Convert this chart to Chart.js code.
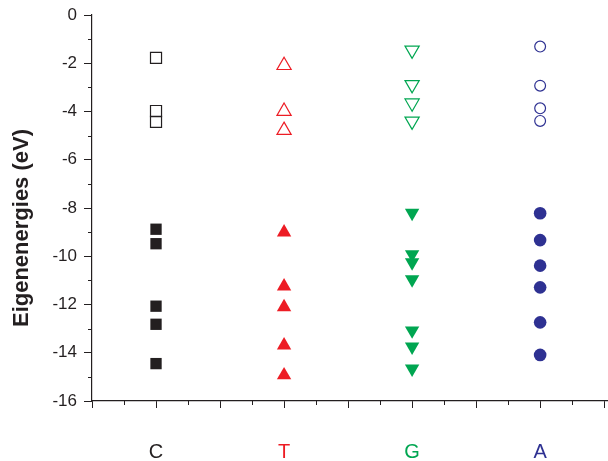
<!DOCTYPE html>
<html>
<head>
<meta charset="utf-8">
<script src="https://cdn.jsdelivr.net/npm/chart.js@4.4.1/dist/chart.umd.min.js"></script>
<style>
  html, body { margin: 0; padding: 0; background: #fff; }
  #wrap { width: 608px; height: 461px; }
</style>
</head>
<body>
<div id="wrap"><canvas id="chart" width="608" height="461"></canvas></div>
<script>
// categories and where they sit on the x axis
var categories = ['C', 'T', 'G', 'A'];
var catX = [1, 3, 5, 7];
var catColors = ['#231f20', '#ed1c24', '#00a651', '#2e3192'];

// eigenenergies (eV), unoccupied (open) and occupied (filled)
var cOpen = [-1.78, -3.98, -4.43];
var cFill = [-8.88, -9.48, -12.07, -12.82, -14.45];
var tOpen = [-2.09, -3.99, -4.78];
var tFill = [-9.01, -11.25, -12.11, -13.69, -14.93];
var gOpen = [-1.46, -2.89, -3.65, -4.40];
var gFill = [-8.20, -9.92, -10.26, -10.96, -13.08, -13.75, -14.66];
var aOpen = [-1.31, -2.93, -3.87, -4.39];
var aFill = [-8.22, -9.33, -10.39, -11.29, -12.74, -14.09];

var yTicks = [0, -2, -4, -6, -8, -10, -12, -14, -16];
var xTicks = [0, 1, 2, 3, 4, 5, 6, 7, 8];

function pts(i, vals) {
	return vals.map(function (v) { return { x: catX[i], y: v }; });
}

function ds(i, vals, style, filled, radius, rot) {
	return {
		data: pts(i, vals),
		pointStyle: style,
		pointRadius: radius,
		pointRotation: rot || 0,
		pointBorderWidth: filled ? 0 : 1.2,
		pointBorderColor: catColors[i],
		pointBackgroundColor: filled ? catColors[i] : 'rgba(0,0,0,0)',
		showLine: false
	};
}

// minor ticks and rotated y title
var extras = {
	id: 'extras',
	afterDraw: function (chart) {
		var ctx = chart.ctx, xs = chart.scales.x, ys = chart.scales.y;
		var area = chart.chartArea;
		ctx.save();
		ctx.strokeStyle = '#231f20';
		ctx.lineWidth = 1;
		ctx.beginPath();
		for (var v = -15; v <= -1; v += 2) {
			var py = Math.round(ys.getPixelForValue(v)) + 0.5;
			ctx.moveTo(area.left, py);
			ctx.lineTo(area.left - 4, py);
		}
		for (var u = 0.5; u < 8.06; u += 1) {
			var px = Math.round(xs.getPixelForValue(u)) + 0.5;
			ctx.moveTo(px, area.bottom);
			ctx.lineTo(px, area.bottom + 4);
		}
		ctx.stroke();

		ctx.translate(21.5, (area.top + area.bottom) / 2 + 20);
		ctx.rotate(-Math.PI / 2);
		ctx.fillStyle = '#231f20';
		ctx.font = 'bold 22px "Liberation Sans", Arial, sans-serif';
		ctx.textAlign = 'center';
		ctx.textBaseline = 'middle';
		ctx.fillText('Eigenenergies (eV)', 0, 0);
		ctx.restore();
	}
};

new Chart(document.getElementById('chart'), {
	type: 'scatter',
	data: {
		datasets: [
			ds(0, cOpen, 'rect', false, 7.8),
			ds(0, cFill, 'rect', true, 8),
			ds(1, tOpen, 'triangle', false, 8.2),
			ds(1, tFill, 'triangle', true, 8.3),
			ds(2, gOpen, 'triangle', false, 8.2, 180),
			ds(2, gFill, 'triangle', true, 8.3, 180),
			ds(3, aOpen, 'circle', false, 5.4),
			ds(3, aFill, 'circle', true, 6.3)
		]
	},
	options: {
		responsive: false,
		animation: false,
		devicePixelRatio: 1,
		layout: { autoPadding: false, padding: { top: 15, right: 0, left: 0, bottom: 0 } },
		plugins: { legend: { display: false }, tooltip: { enabled: false } },
		scales: {
			x: {
				type: 'linear',
				min: 0,
				max: 8.06,
				afterBuildTicks: function (s) { s.ticks = xTicks.map(function (v) { return { value: v }; }); },
				afterFit: function (s) { s.height = 60; s.paddingLeft = 0; s.paddingRight = 0; },
				grid: { drawOnChartArea: false, drawTicks: true, tickLength: 7, tickColor: '#231f20', tickWidth: 1 },
				border: { color: '#231f20', width: 1.2 },
				ticks: {
					padding: 32,
					maxRotation: 0,
					autoSkip: false,
					font: { family: '"Liberation Sans", Arial, sans-serif', size: 20 },
					color: function (c) {
						var k = catX.indexOf(c.tick.value);
						return k >= 0 ? catColors[k] : '#231f20';
					},
					callback: function (v) {
						var k = catX.indexOf(v);
						return k >= 0 ? categories[k] : '';
					}
				}
			},
			y: {
				min: -16,
				max: 0,
				afterBuildTicks: function (s) { s.ticks = yTicks.map(function (v) { return { value: v }; }); },
				afterFit: function (s) { s.width = 92; s.paddingTop = 0; s.paddingBottom = 0; },
				grid: { drawOnChartArea: false, drawTicks: true, tickLength: 8, tickColor: '#231f20', tickWidth: 1 },
				border: { color: '#231f20', width: 1.2 },
				ticks: {
					padding: 7,
					color: '#231f20',
					font: { family: '"Liberation Sans", Arial, sans-serif', size: 17 }
				}
			}
		}
	},
	plugins: [extras]
});
</script>
</body>
</html>
